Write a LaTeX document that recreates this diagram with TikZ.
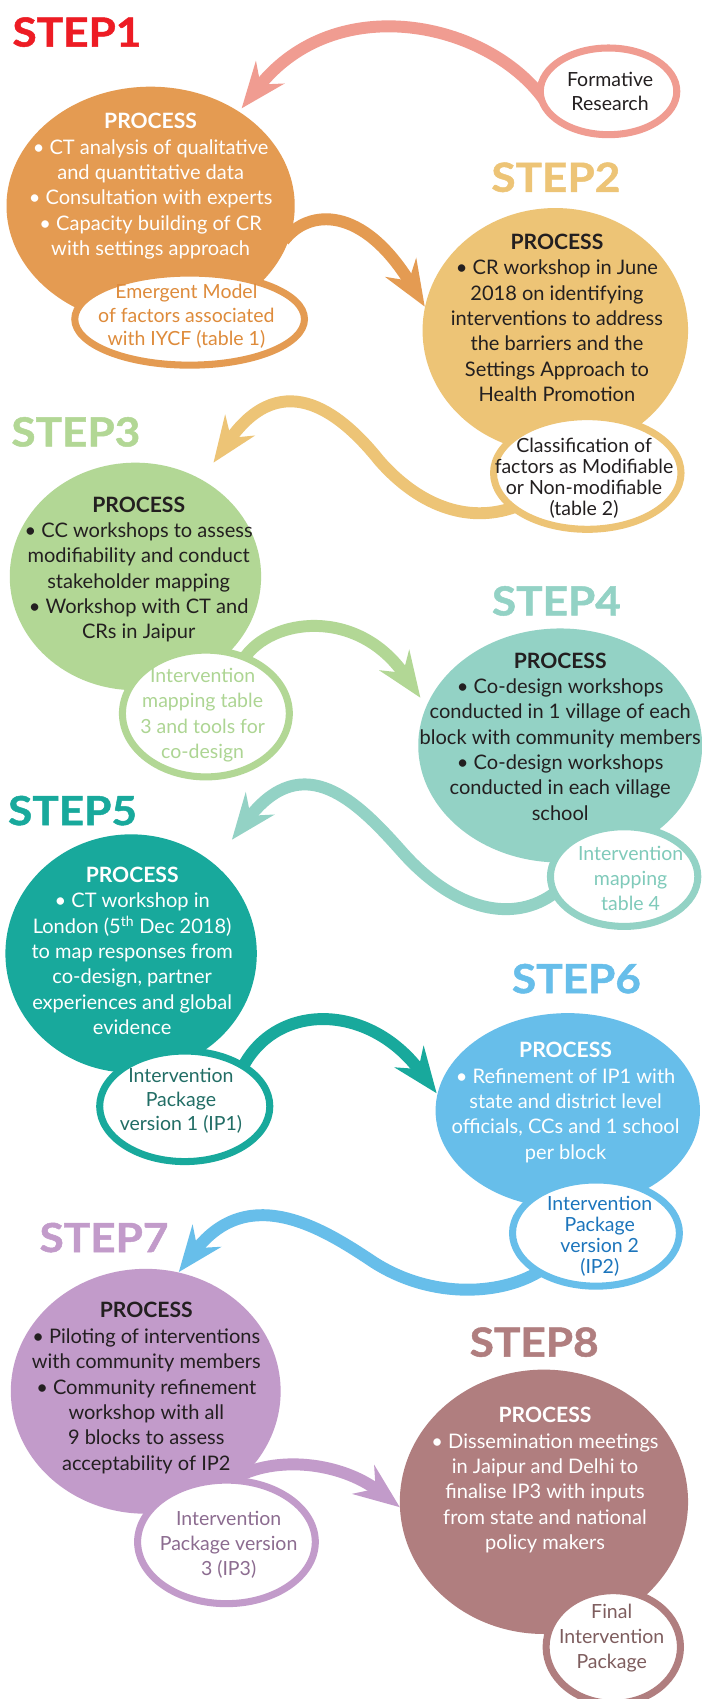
\documentclass[tikz,border=0pt]{standalone}
\usepackage{fontspec}
\setmainfont{Lato}
\newfontfamily\stepfont{Lato}[FakeStretch=1.1,FakeBold=1.2]
\usetikzlibrary{shapes.geometric,arrows.meta}
\definecolor{stepred}{HTML}{ED1C24}
\definecolor{cone}{HTML}{E49B52}
\definecolor{conet}{HTML}{DE8B3B}
\definecolor{cpink}{HTML}{F09C91}
\definecolor{ctwo}{HTML}{EDC476}
\definecolor{cthree}{HTML}{B2D795}
\definecolor{cthreet}{HTML}{ADD593}
\definecolor{cfour}{HTML}{93D2C5}
\definecolor{cfourt}{HTML}{7FCABA}
\definecolor{cfive}{HTML}{18A99C}
\definecolor{cfivet}{HTML}{216D65}
\definecolor{csix}{HTML}{67BEEA}
\definecolor{csixt}{HTML}{1C75BC}
\definecolor{cseven}{HTML}{C29BCA}
\definecolor{csevent}{HTML}{8C6C90}
\definecolor{ceight}{HTML}{B07E7F}
\definecolor{ceightt}{HTML}{7E5D5E}
\definecolor{dark}{HTML}{231F20}
\begin{document}
\begin{tikzpicture}[x=1pt,y=-1pt,
  bigell/.style={ellipse, inner sep=0pt, outer sep=0pt},
  ring/.style={ellipse, draw, fill=white, line width=6.5pt, inner sep=0pt},
  body/.style={align=center, inner sep=0pt, font=\fontsize{18.5}{23.4}\selectfont},
  ringtext/.style={align=center, inner sep=0pt, font=\fontsize{18}{#1}\selectfont},
  steplbl/.style={anchor=base, inner sep=0pt, font=\stepfont\bfseries\fontsize{37}{37}\selectfont},
  arr/.style={line width=11pt, -{Stealth[length=42pt,width=33pt,inset=14pt]}}
]
\newcommand{\proc}{{\bfseries\fontsize{19.5}{23.4}\selectfont PROCESS}}
\useasboundingbox (0,0) rectangle (647,1568);
\fill[white] (0,0) rectangle (647,1568);

% big ellipses
\node[bigell, fill=cone,   minimum width=266pt, minimum height=220pt] (s1) at (139,190) {};
\node[bigell, fill=ctwo,   minimum width=245pt, minimum height=226pt] (s2) at (512.5,305) {};
\node[bigell, fill=cthree, minimum width=232pt, minimum height=210pt] (s3) at (125,532) {};
\node[bigell, fill=cfour,  minimum width=262pt, minimum height=216pt] (s4) at (517,688) {};
\node[bigell, fill=cfive,  minimum width=232pt, minimum height=220pt] (s5) at (121,880) {};
\node[bigell, fill=csix,   minimum width=244pt, minimum height=180pt] (s6) at (524,1025) {};
\node[bigell, fill=cseven, minimum width=249pt, minimum height=226pt] (s7) at (134.5,1284) {};
\node[bigell, fill=ceight, minimum width=266pt, minimum height=244pt] (s8) at (502,1386) {};

% arrow end points
\coordinate (a1s) at (502,92);    \coordinate (a1e) at (223,100);
\coordinate (a2s) at (262,222);   \coordinate (a2e) at (392,283);
\coordinate (a3s) at (475,468);   \coordinate (a3m) at (350,425);  \coordinate (a3e) at (197,427);
\coordinate (a4s) at (225,608);   \coordinate (a4e) at (388,644);
\coordinate (a5s) at (512,824);   \coordinate (a5m) at (370,785);  \coordinate (a5e) at (214,775);
\coordinate (a6s) at (224,985);   \coordinate (a6e) at (403,1009);
\coordinate (a7s) at (500,1172);  \coordinate (a7m) at (345,1165); \coordinate (a7e) at (165,1174);
\coordinate (a8s) at (215,1365);  \coordinate (a8e) at (369,1391);

% arrows
\draw[arr, cpink]  (a1s) .. controls (450,20) and (310,-10) .. (a1e);
\draw[arr, cone]   (a2s) .. controls (285,192) and (335,190) .. (a2e);
\draw[arr, ctwo]   (a3s) .. controls (430,484) and (385,465) .. (a3m) .. controls (318,385) and (262,335) .. (a3e);
\draw[arr, cthree] (a4s) .. controls (250,570) and (330,560) .. (a4e);
\draw[arr, cfour]  (a5s) .. controls (475,852) and (420,842) .. (a5m) .. controls (330,740) and (280,690) .. (a5e);
\draw[arr, cfive]  (a6s) .. controls (255,925) and (340,925) .. (a6e);
\draw[arr, csix]   (a7s) .. controls (465,1195) and (400,1200) .. (a7m) .. controls (300,1135) and (230,1090) .. (a7e);
\draw[arr, cseven] (a8s) .. controls (255,1342) and (315,1350) .. (a8e);

% rings
\node[ring, draw=cpink,  minimum width=126pt, minimum height=80pt]  (fr)  at (561.6,84.3) {};
\node[ring, draw=cone,   minimum width=212pt, minimum height=85pt]  (e1)  at (175,294.5) {};
\node[ring, draw=ctwo,   minimum width=173pt, minimum height=104pt] (e2)  at (542,436.5) {};
\node[ring, draw=cthree, minimum width=154pt, minimum height=117pt] (e3)  at (190,658.5) {};
\node[ring, draw=cfour,  minimum width=136pt, minimum height=92pt]  (e4)  at (576,809) {};
\node[ring, draw=cfive,  minimum width=157pt, minimum height=102pt] (e5)  at (170.5,1021) {};
\node[ring, draw=csix,   minimum width=154pt, minimum height=98pt]  (e6)  at (550,1138) {};
\node[ring, draw=cseven, minimum width=164pt, minimum height=114pt] (e7)  at (209,1423) {};
\node[ring, draw=ceight, minimum width=124pt, minimum height=104pt] (e8)  at (566,1520) {};

% step labels
\node[steplbl, text=stepred] (l1) at (71,43) {STEP1};
\node[steplbl, text=ctwo]    (l2) at (513,177) {STEP2};
\node[steplbl, text=cthree]  (l3) at (70,412) {STEP3};
\node[steplbl, text=cfour]   (l4) at (513.5,568) {STEP4};
\node[steplbl, text=cfive]   (l5) at (67,761.5) {STEP5};
\node[steplbl, text=csix]    (l6) at (532,916.6) {STEP6};
\node[steplbl, text=cseven]  (l7) at (96,1155.5) {STEP7};
\node[steplbl, text=ceight]  (l8) at (493,1252) {STEP8};

% process texts
\node[body, text=white] (t1) at (139,172) {\proc\\ • CT analysis of qualitative\\ and quantitative data\\ • Consultation with experts\\ • Capacity building of CR\\ with settings approach};
\node[body, text=dark] (t2) at (514,293.4) {\proc\\ • CR workshop in June\\ 2018 on identifying\\ interventions to address\\ the barriers and the\\ Settings Approach to\\ Health Promotion};
\node[body, text=dark] (t3) at (128,525.6) {\proc\\ • CC workshops to assess\\ modifiability and conduct\\ stakeholder mapping\\ • Workshop with CT and\\ CRs in Jaipur};
\node[body, text=dark] (t4) at (517,679.8) {\proc\\ • Co-design workshops\\ conducted in 1 village of each\\ block with community members\\ • Co-design workshops\\ conducted in each village\\ school};
\node[body, text=white] (t5) at (122,877.5) {\proc\\ • CT workshop in\\ London (5\textsuperscript{th} Dec 2018)\\ to map responses from\\ co-design, partner\\ experiences and global\\ evidence};
\node[body, text=white] (t6) at (522,1017.5) {\proc\\ • Refinement of IP1 with\\ state and district level\\ officials, CCs and 1 school\\ per block};
\node[body, text=dark] (t7) at (135,1281) {\proc\\ • Piloting of interventions\\ with community members\\ • Community refinement\\ workshop with all\\ 9 blocks to assess\\ acceptability of IP2};
\node[body, text=white] (t8) at (503,1366) {\proc\\ • Dissemination meetings\\ in Jaipur and Delhi to\\ finalise IP3 with inputs\\ from state and national\\ policy makers};

% ring texts
\node[ringtext=22, text=dark]     (rf) at (563,84) {Formative\\ Research};
\node[ringtext=21.6, text=conet]  (r1) at (172,292) {Emergent Model\\ of factors associated\\ with IYCF (table 1)};
\node[ringtext=19.4, text=dark]   (r2) at (539,441.6) {Classification of\\ factors as Modifiable\\ or Non-modifiable\\ (table 2)};
\node[ringtext=23.3, text=cthreet] (r3) at (187,660) {Intervention\\ mapping table\\ 3 and tools for\\ co-design};
\node[ringtext=23.3, text=cfourt] (r4) at (582,810.5) {Intervention\\ mapping\\ table 4};
\node[ringtext=22.5, text=cfivet] (r5) at (167,1016) {Intervention\\ Package\\ version 1 (IP1)};
\node[ringtext=19.5, text=csixt]  (r6) at (553.5,1141) {Intervention\\ Package\\ version 2\\ (IP2)};
\node[ringtext=23, text=csevent]  (r7) at (211,1426) {Intervention\\ Package version\\ 3 (IP3)};
\node[ringtext=23, text=ceightt]  (r8) at (564.5,1512) {Final\\ Intervention\\ Package};
\end{tikzpicture}
\end{document}
